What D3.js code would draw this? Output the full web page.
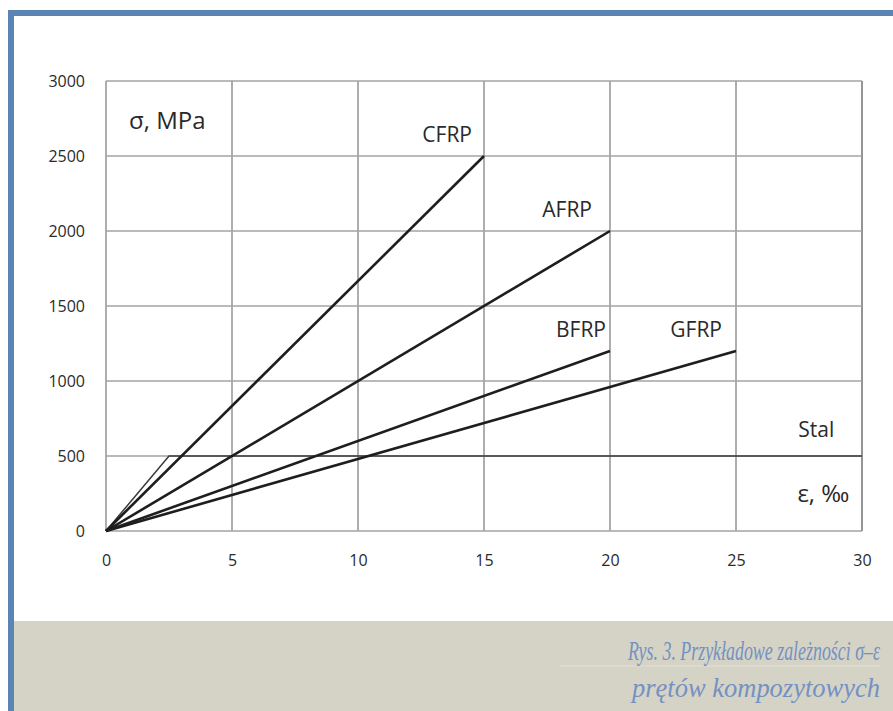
<!DOCTYPE html>
<html>
<head>
<meta charset="utf-8">
<script src="https://cdn.jsdelivr.net/npm/d3@7"></script>
<style>
  body { margin: 0; background: #fff; }
  svg { display: block; }
</style>
</head>
<body>
<script>
// data
const seriesNames = ["CFRP", "AFRP", "BFRP", "GFRP"]
const strainAtFailure = [15, 20, 20, 25]      // ‰
const stressAtFailure = [2500, 2000, 1200, 1200] // MPa
const steelStrain = [0, 2.5, 30]
const steelStress = [0, 500, 500]
const xTicks = [0, 5, 10, 15, 20, 25, 30]
const yTicks = [0, 500, 1000, 1500, 2000, 2500, 3000]
const captionLines = ["Rys. 3. Przykładowe zależności σ–ε", "prętów kompozytowych"]

function drawChart(){
    const dimensions = {
        width: 893,
        height: 711,
        margin: { top: 81, right: 31, bottom: 180, left: 106 }
    }
    dimensions.boundedWidth = dimensions.width - dimensions.margin.left - dimensions.margin.right
    dimensions.boundedHeight = dimensions.height - dimensions.margin.top - dimensions.margin.bottom

    const wrapper = d3.select("body")
        .append("svg")
        .attr("width", dimensions.width)
        .attr("height", dimensions.height)

    // page frame: blue border + caption band
    wrapper.append("rect")
        .attr("x", 14).attr("y", 621)
        .attr("width", dimensions.width - 14).attr("height", 90)
        .attr("fill", "#d5d3c6")
    wrapper.append("rect")
        .attr("x", 8).attr("y", 10)
        .attr("width", 6).attr("height", dimensions.height - 10)
        .attr("fill", "#5a84b3")
    wrapper.append("rect")
        .attr("x", 8).attr("y", 10)
        .attr("width", dimensions.width - 8).attr("height", 6)
        .attr("fill", "#5a84b3")

    const bounds = wrapper.append("g")
        .attr("transform", `translate(${dimensions.margin.left},${dimensions.margin.top})`)

    const xScale = d3.scaleLinear().domain([0, 30]).range([0, dimensions.boundedWidth])
    const yScale = d3.scaleLinear().domain([0, 3000]).range([dimensions.boundedHeight, 0])

    // grid
    bounds.append("g").selectAll("line")
        .data(xTicks)
        .join("line")
        .attr("x1", d => xScale(d)).attr("x2", d => xScale(d))
        .attr("y1", 0).attr("y2", dimensions.boundedHeight)
        .attr("stroke", d => d == 30 ? "#7a7a7a" : "#9a9a9a")
        .attr("stroke-width", 1.6)
    bounds.append("g").selectAll("line")
        .data(yTicks)
        .join("line")
        .attr("x1", 0).attr("x2", dimensions.boundedWidth)
        .attr("y1", d => yScale(d)).attr("y2", d => yScale(d))
        .attr("stroke", "#a3a3a3")
        .attr("stroke-width", 1.6)

    // axes (labels only)
    const xAxis = bounds.append("g")
        .attr("transform", `translate(0,${dimensions.boundedHeight})`)
        .call(d3.axisBottom(xScale).tickValues(xTicks).tickFormat(d3.format("d")).tickSize(0).tickPadding(24))
    const yAxis = bounds.append("g")
        .call(d3.axisLeft(yScale).tickValues(yTicks).tickFormat(d3.format("d")).tickSize(0).tickPadding(21))
    ;[xAxis, yAxis].forEach(a => {
        a.select(".domain").remove()
        a.selectAll("text")
            .style("font-family", "'Open Sans'")
            .style("font-size", "16px")
            .attr("fill", "#2a2a2a")
    })

    // steel
    const line = d3.line().x(d => xScale(d[0])).y(d => yScale(d[1]))
    bounds.append("path")
        .datum(d3.zip(steelStrain, steelStress))
        .attr("d", line)
        .attr("fill", "none")
        .attr("stroke", "#3a3a3a")
        .attr("stroke-width", 1.5)

    // FRP bars
    const frp = d3.zip(seriesNames, strainAtFailure, stressAtFailure)
    bounds.selectAll(".frp")
        .data(frp)
        .join("path")
        .attr("class", "frp")
        .attr("d", d => line([[0, 0], [d[1], d[2]]]))
        .attr("fill", "none")
        .attr("stroke", "#1e1e1e")
        .attr("stroke-width", 2.6)

    // series labels
    const labelDx = [-12, -18, -4, -14]
    bounds.selectAll(".lbl")
        .data(frp)
        .join("text")
        .attr("class", "lbl")
        .attr("x", (d, i) => xScale(d[1]) + labelDx[i])
        .attr("y", d => yScale(d[2]) - 14)
        .attr("text-anchor", "end")
        .style("font-family", "'Open Sans'")
        .style("font-size", "21px")
        .attr("fill", "#2a2a2a")
        .text(d => d[0])

    bounds.append("text")
        .attr("x", xScale(28.9)).attr("y", yScale(500) - 19)
        .attr("text-anchor", "end")
        .style("font-family", "'Open Sans'").style("font-size", "21px")
        .attr("fill", "#2a2a2a")
        .text("Stal")

    bounds.append("text")
        .attr("x", xScale(29.5)).attr("y", yScale(500) + 46)
        .attr("text-anchor", "end")
        .style("font-family", "'Open Sans'").style("font-size", "24px")
        .attr("fill", "#2a2a2a")
        .text("ε, ‰")

    bounds.append("text")
        .attr("x", 23).attr("y", 48)
        .style("font-family", "'Open Sans'").style("font-size", "24px")
        .attr("fill", "#2a2a2a")
        .text("σ, MPa")

    // caption
    wrapper.append("line")
        .attr("x1", 560).attr("x2", 880).attr("y1", 666).attr("y2", 666)
        .attr("stroke", "#e2e0d6").attr("stroke-width", 1)
    wrapper.selectAll(".cap")
        .data(captionLines)
        .join("text")
        .attr("class", "cap")
        .attr("x", 880)
        .attr("y", (d, i) => 660 + i * 37)
        .attr("text-anchor", "end")
        .attr("textLength", (d, i) => i == 0 ? 252 : 248)
        .attr("lengthAdjust", "spacingAndGlyphs")
        .style("font-family", "'Liberation Serif'")
        .style("font-style", "italic")
        .style("font-size", "28px")
        .attr("fill", "#7391c2")
        .text(d => d)
}

drawChart()
</script>
</body>
</html>
